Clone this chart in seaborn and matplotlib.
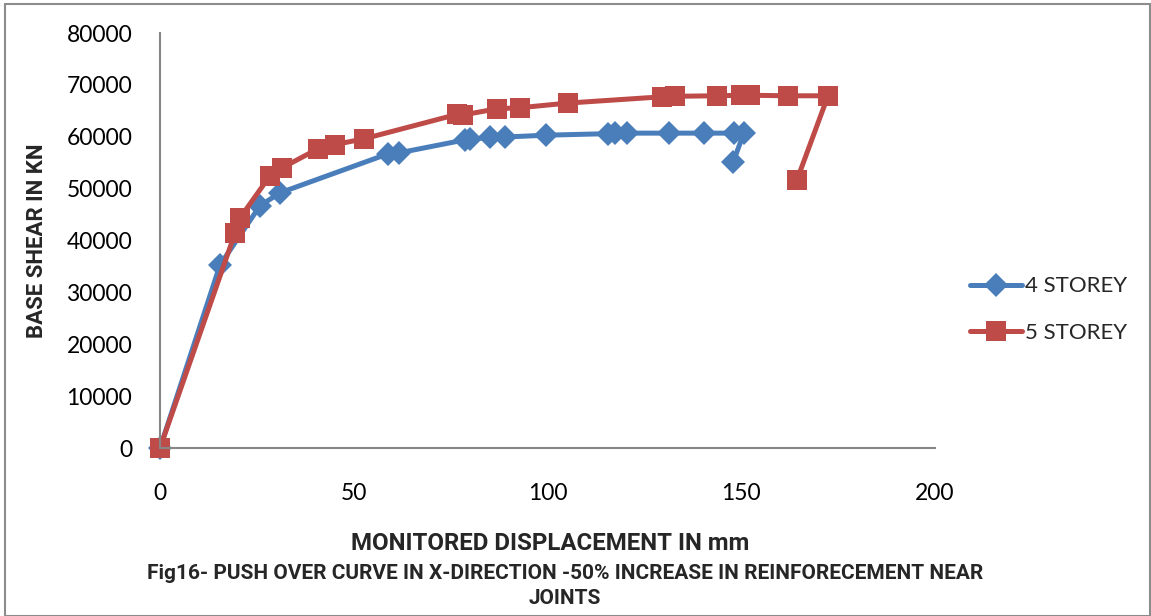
import matplotlib
matplotlib.use("Agg")
import matplotlib.pyplot as plt
from matplotlib.patches import Rectangle
import seaborn as sns
import pandas as pd

# Pushover curve data: roof displacement (mm) vs base shear (kN)
disp_4 = [0, 15.5, 25.8, 31.0, 58.8, 61.7, 78.7, 80.0, 85.2, 89.0, 99.6,
          115.6, 117.4, 120.5, 131.4, 140.4, 148.1, 150.7, 147.9]
shear_4 = [0, 35300, 46700, 49200, 56700, 56900, 59400, 59500, 59900, 59950, 60300,
           60600, 60650, 60700, 60700, 60700, 60700, 60750, 55100]

disp_5 = [0, 19.4, 20.6, 28.4, 31.5, 40.8, 45.2, 52.6, 76.6, 78.2, 87.0, 92.9,
          105.3, 129.5, 132.9, 143.7, 149.9, 152.3, 162.1, 172.4, 164.4]
shear_5 = [0, 41500, 44300, 52500, 54000, 57700, 58500, 59600, 64300, 64200, 65400, 65600,
           66500, 67700, 67800, 67900, 68000, 68000, 67900, 67900, 51700]

series_names = ["4 STOREY", "5 STOREY"]
x_ticks = [0, 50, 100, 150, 200]
y_ticks = [0, 10000, 20000, 30000, 40000, 50000, 60000, 70000, 80000]

df = pd.concat([
    pd.DataFrame({"disp": disp_4, "shear": shear_4, "series": series_names[0]}),
    pd.DataFrame({"disp": disp_5, "shear": shear_5, "series": series_names[1]}),
], ignore_index=True)

sns.set_theme(style="white")
plt.rcParams["font.family"] = ["Lato", "DejaVu Sans"]
BOLD = ["Roboto", "DejaVu Sans"]

fig = plt.figure(figsize=(11.51, 6.16), dpi=100)
ax = fig.add_axes([0.139, 0.2727, 0.6733, 0.6737])

colors = {"4 STOREY": "#4A7EBB", "5 STOREY": "#BE4B48"}
markers = {"4 STOREY": "D", "5 STOREY": "s"}
sizes = {"4 STOREY": 12, "5 STOREY": 14}

for name in series_names:
    sub = df[df["series"] == name]
    sns.lineplot(data=sub, x="disp", y="shear", sort=False, estimator=None,
                 color=colors[name], linewidth=3.6, marker=markers[name],
                 markersize=sizes[name], markeredgewidth=0, ax=ax, label=name)

ax.set_xlim(0, 200)
ax.set_ylim(0, 80000)
ax.set_xticks(x_ticks)
ax.set_yticks(y_ticks)
ax.set_xticklabels([str(v) for v in x_ticks])
ax.set_yticklabels([str(v) for v in y_ticks])

for side in ["top", "right"]:
    ax.spines[side].set_visible(False)
for side in ["left", "bottom"]:
    ax.spines[side].set_color("#868686")
    ax.spines[side].set_linewidth(1.5)
ax.tick_params(axis="both", which="major", direction="out", length=6, width=1.5,
               color="#868686", labelsize=16.5, labelcolor="black")
ax.tick_params(axis="x", pad=19)
ax.tick_params(axis="y", pad=14)
for ln in ax.get_lines():
    ln.set_clip_on(False)

ax.set_xlabel("")
ax.set_ylabel("BASE SHEAR IN KN", fontsize=16, fontweight="bold", family=BOLD, labelpad=13)

fig.text(0.478, 0.118, "MONITORED DISPLACEMENT IN mm", ha="center", va="center",
         fontsize=17.3, fontweight="bold", family=BOLD)
fig.text(0.491, 0.069, "Fig16- PUSH OVER CURVE IN X-DIRECTION -50% INCREASE IN REINFORECEMENT NEAR",
         ha="center", va="center", fontsize=15, fontweight="bold", family=BOLD)
fig.text(0.491, 0.029, "JOINTS", ha="center", va="center", fontsize=15,
         fontweight="bold", family=BOLD)

ax.legend(loc="center left", bbox_to_anchor=(1.02, 0.333), frameon=False,
          fontsize=16, handlelength=2.3, handletextpad=0.15, labelspacing=1.2)

fig.patches.append(Rectangle((0.004, 0.0), 0.995, 0.993, transform=fig.transFigure,
                             fill=False, edgecolor="#8c8c8c", linewidth=1.5))

fig.savefig("out.png", dpi=100)
